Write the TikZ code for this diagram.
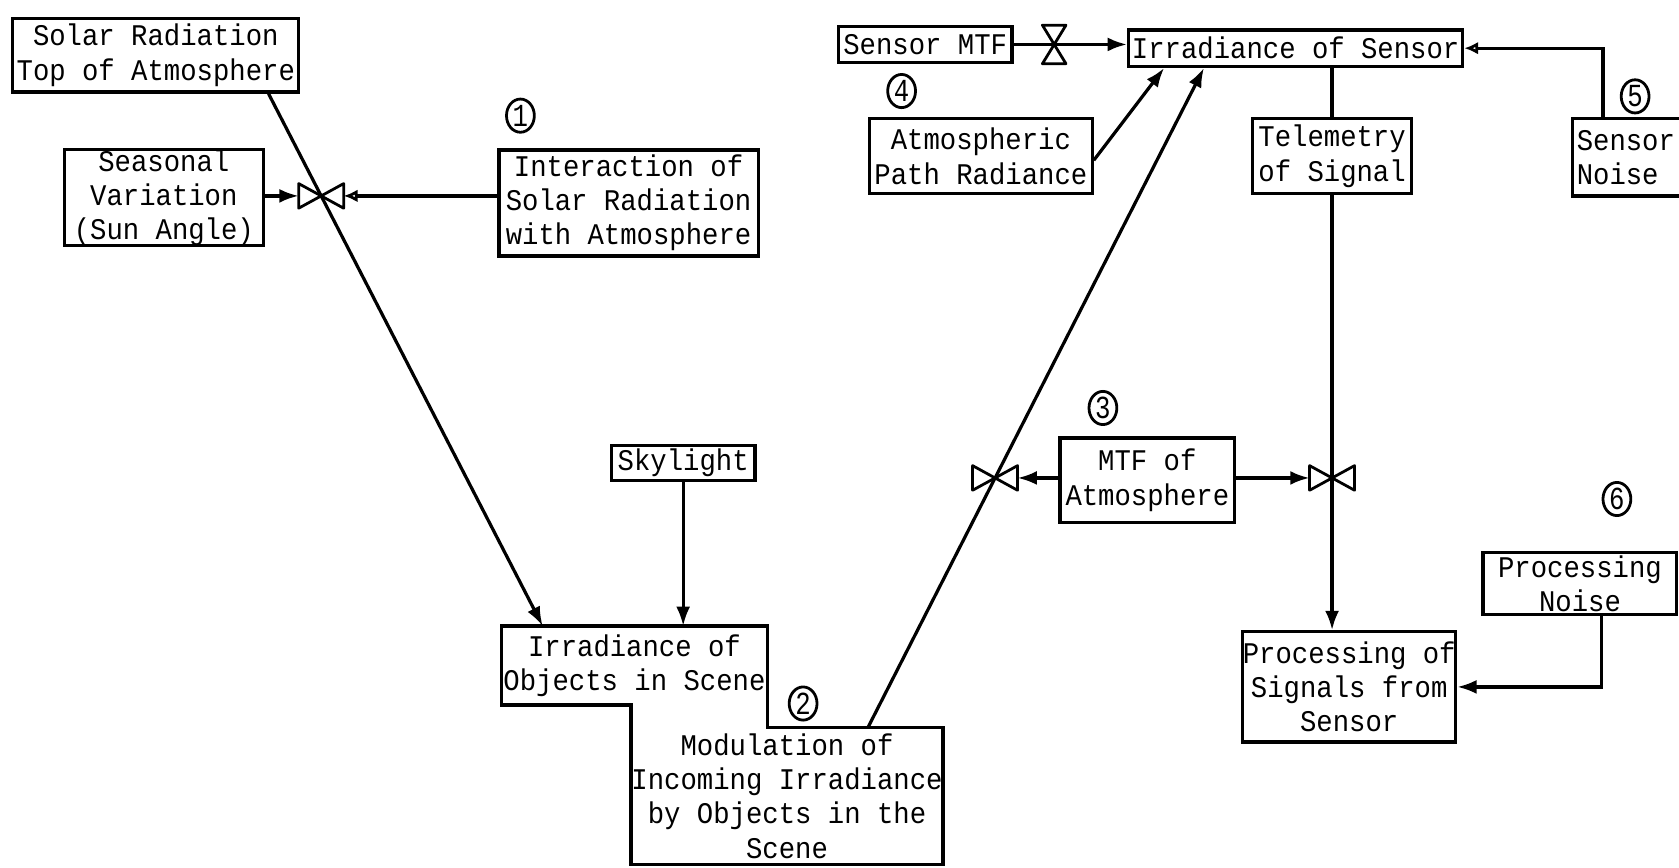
\documentclass[tikz,border=0pt]{standalone}
\usepackage{fontspec}
\newfontfamily\typefont[FakeStretch=0.91]{Liberation Mono}
\newfontfamily\numfont[FakeStretch=0.8]{Liberation Mono}
\usetikzlibrary{arrows.meta,calc,shapes.geometric}
\begin{document}
\begin{tikzpicture}[x=0.5pt,y=-0.5pt,
  every node/.style={font=\typefont\fontsize{14}{16}\selectfont},
  box/.style={draw, line width=1.5pt, inner sep=0pt, align=center},
  txt/.style={inner sep=0pt, align=center},
  num/.style={draw, ellipse, line width=1.3pt, inner sep=0pt, minimum width=13pt, minimum height=15.5pt, font=\numfont\fontsize{15}{15}\selectfont},
  conn/.style={line width=1.5pt},
  arr/.style={conn, -{Latex[length=9pt,width=6.5pt]}},
  oarr/.style={conn, -{Latex[open,length=6.5pt,width=6pt]}},
  valveh/.pic={\draw[line width=1.3pt, line join=round] (0,0) -- (-21,-11.5) -- (-21,11.5) -- cycle (0,0) -- (21,-11.5) -- (21,11.5) -- cycle;},
  valvev/.pic={\draw[line width=1.3pt, line join=round] (0,0) -- (-11,-18) -- (11,-18) -- cycle (0,0) -- (-11,18) -- (11,18) -- cycle;}
]
\path[use as bounding box] (0,0) rectangle (1568,810);
\clip (0,0) rectangle (1568,810);
\fill[white] (0,0) rectangle (1568,810);

% boxes
\node[box, minimum width=133.5pt, minimum height=34.5pt] (solar) at (145.5,51.5) {Solar Radiation\\Top of Atmosphere};
\node[box, minimum width=93pt, minimum height=44.5pt] (seasonal) at (153,184.5) {Seasonal\\Variation\\(Sun Angle)};
\node[box, minimum width=121pt, minimum height=49.5pt] (interaction) at (587,189.5) {Interaction of\\Solar Radiation\\with Atmosphere};
\node[box, minimum width=67pt, minimum height=16.5pt] (skylight) at (638,432.5) {Skylight};
\node[box, minimum width=81pt, minimum height=16.5pt] (sensorMTF) at (864,41.5) {Sensor MTF};
\node[box, minimum width=156pt, minimum height=17pt] (irrSensor) at (1210,45) {Irradiance of Sensor};
\node[box, minimum width=104pt, minimum height=35pt] (atmPath) at (916,146) {Atmospheric\\Path Radiance};
\node[box, minimum width=74pt, minimum height=35pt] (telemetry) at (1244,146) {Telemetry\\of Signal};
\node[box, anchor=west, text width=72pt, inner xsep=2pt, align=left, minimum height=36pt] (sensorNoise) at (1467,147) {Sensor\\Noise};
\node[box, minimum width=90.5pt, minimum height=29pt] (procNoise) at (1475.5,545) {Processing\\Noise};
\node[box, minimum width=90pt, minimum height=51.5pt] (procSignals) at (1260,641.5) {Processing of\\Signals from\\Sensor};
\node[box, minimum width=81.5pt, minimum height=39.5pt] (mtfAtm) at (1071.5,448.5) {MTF of\\Atmosphere};
\node[txt, minimum width=123.5pt, minimum height=36.5pt] (irrObj) at (592.5,621.5) {Irradiance of\\Objects in Scene};
\node[txt, minimum width=145pt, minimum height=63.5pt] (modul) at (735,743.5) {Modulation of\\Incoming Irradiance\\by Objects in the\\Scene};
\draw[line width=1.5pt] (irrObj.north west) -- (irrObj.north east) -- (irrObj.east |- modul.north) -- (modul.north east) -- (modul.south east) -- (modul.south west) -- (modul.west |- irrObj.south) -- (irrObj.south west) -- cycle;

% numbers
\node[num] (n1) at (486,108) {1};
\node[num] (n2) at (750,657) {2};
\node[num] (n3) at (1030,381) {3};
\node[num] (n4) at (842,85) {4};
\node[num] (n5) at (1527,90) {5};
\node[num] (n6) at (1510,466) {6};

% solar -> irradiance of objects, with valve
\coordinate (s1) at ($(solar.south west)!0.89!(solar.south east)$);
\coordinate (e1) at ($(irrObj.north west)!0.154!(irrObj.north east)$);
\coordinate (vA) at ($(s1)!0.192!(e1)$);
\draw[arr] (s1) -- (e1);
\pic at (vA) {valveh};
\draw[arr] (seasonal.east |- vA) -- ($(vA)+(-21,0)$);
\draw[oarr] (interaction.west |- vA) -- ($(vA)+(21,0)$);

% skylight
\draw[arr] (skylight.south) -- (skylight.south |- irrObj.north);

% modulation -> irradiance of sensor, with valve
\coordinate (s2) at ($(modul.north west)!0.759!(modul.north east)$);
\coordinate (e2) at ($(irrSensor.south west)!0.228!(irrSensor.south east)$);
\coordinate (vB) at ($(s2)!0.3786!(e2)$);
\draw[arr] (s2) -- (e2);
\pic at (vB) {valveh};
\coordinate (vC) at (telemetry.south |- vB);
\draw[arr] (mtfAtm.west |- vB) -- ($(vB)+(21,0)$);
\draw[arr] (mtfAtm.east |- vB) -- ($(vC)+(-21,0)$);

% telemetry chain
\draw[conn] (irrSensor.south -| telemetry.north) -- (telemetry.north);
\draw[arr] (telemetry.south) -- (telemetry.south |- procSignals.north);
\pic at (vC) {valveh};

% sensor MTF
\coordinate (vD) at ($(sensorMTF.east)+(38,0)$);
\draw[arr] (sensorMTF.east) -- (sensorMTF.east -| irrSensor.west);
\pic at (vD) {valvev};

% path radiance
\draw[arr] ($(atmPath.north east)!0.55!(atmPath.south east)$) -- ($(irrSensor.south west)!0.11!(irrSensor.south east)$);

% sensor noise
\draw[oarr] ($(sensorNoise.north west)+(30,0)$) |- (irrSensor.east);

% processing noise
\draw[arr] ($(procNoise.south west)+(112,0)$) |- (procSignals.east);
\end{tikzpicture}
\end{document}
